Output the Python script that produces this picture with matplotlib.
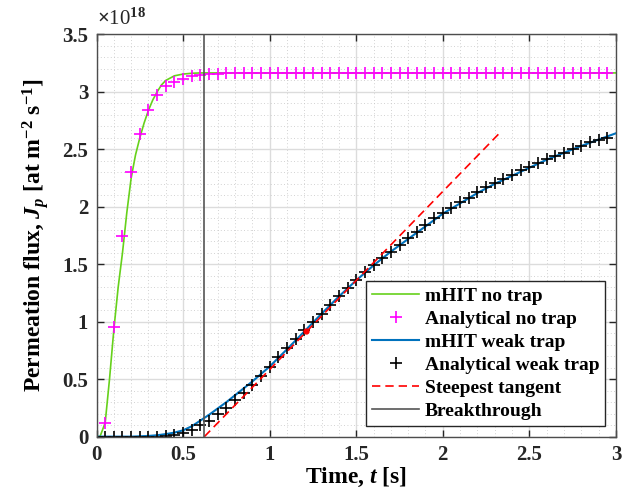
import numpy as np
import matplotlib
matplotlib.use("Agg")
from matplotlib import pyplot as plt
from matplotlib.ticker import MultipleLocator, FormatStrFormatter

plt.rcParams["font.family"] = ["Liberation Serif", "DejaVu Serif"]
plt.rcParams["font.weight"] = "bold"
plt.rcParams["mathtext.fontset"] = "custom"
plt.rcParams["mathtext.rm"] = "Liberation Serif:bold"
plt.rcParams["mathtext.it"] = "Liberation Serif:bold:italic"
plt.rcParams["mathtext.bf"] = "Liberation Serif:bold"

# flux values in units of 1e18 at m^-2 s^-1
t_marks = [0.0, 0.05, 0.1, 0.15, 0.2, 0.25, 0.3, 0.35, 0.4, 0.45,
           0.5, 0.55, 0.6, 0.65, 0.7, 0.75, 0.8, 0.85, 0.9, 0.95,
           1.0, 1.05, 1.1, 1.15, 1.2, 1.25, 1.3, 1.35, 1.4, 1.45,
           1.5, 1.55, 1.6, 1.65, 1.7, 1.75, 1.8, 1.85, 1.9, 1.95,
           2.0, 2.05, 2.1, 2.15, 2.2, 2.25, 2.3, 2.35, 2.4, 2.45,
           2.5, 2.55, 2.6, 2.65, 2.7, 2.75, 2.8, 2.85, 2.9, 2.95]

ana_notrap = [0.0, 0.12, 0.95, 1.75, 2.30, 2.63, 2.84, 2.97, 3.05, 3.09,
              3.115, 3.135, 3.148, 3.155, 3.16, 3.163, 3.165, 3.165, 3.165, 3.165,
              3.165, 3.165, 3.165, 3.165, 3.165, 3.165, 3.165, 3.165, 3.165, 3.165,
              3.165, 3.165, 3.165, 3.165, 3.165, 3.165, 3.165, 3.165, 3.165, 3.165,
              3.165, 3.165, 3.165, 3.165, 3.165, 3.165, 3.165, 3.165, 3.165, 3.165,
              3.165, 3.165, 3.165, 3.165, 3.165, 3.165, 3.165, 3.165, 3.165, 3.165]

ana_weak = [0.0, 0.0, 0.0, 0.0, 0.0, 0.0, 0.0, 0.001, 0.004, 0.012,
            0.03, 0.06, 0.10, 0.14, 0.20, 0.25, 0.32, 0.38, 0.45, 0.53,
            0.61, 0.69, 0.77, 0.85, 0.93, 1.0, 1.07, 1.145, 1.22, 1.29,
            1.36, 1.43, 1.49, 1.555, 1.61, 1.67, 1.73, 1.785, 1.84, 1.90,
            1.95, 1.99, 2.04, 2.08, 2.13, 2.17, 2.21, 2.24, 2.28, 2.32,
            2.35, 2.38, 2.42, 2.44, 2.47, 2.50, 2.53, 2.56, 2.58, 2.60]

t_notrap = [0.0, 0.02, 0.05, 0.075, 0.1, 0.125, 0.15, 0.175, 0.2, 0.225,
            0.25, 0.275, 0.3, 0.325, 0.35, 0.375, 0.4, 0.45, 0.5, 0.55,
            0.6, 0.7, 3.0]
mhit_notrap = [0.0, 0.0, 0.12, 0.5, 0.93, 1.3, 1.6, 1.95, 2.25, 2.45,
               2.6, 2.73, 2.84, 2.93, 3.0, 3.06, 3.1, 3.14, 3.155, 3.162,
               3.165, 3.165, 3.165]

t_weak = [0.0, 0.2, 0.3, 0.35, 0.4, 0.45, 0.5, 0.55, 0.6, 0.65,
          0.7, 0.75, 0.8, 0.85, 0.9, 1.0, 1.1, 1.2, 1.3, 1.4,
          1.5, 1.6, 1.7, 1.8, 1.9, 2.0, 2.1, 2.2, 2.3, 2.4,
          2.5, 2.6, 2.7, 2.8, 2.9, 3.0]
mhit_weak = [0.0, 0.0, 0.006, 0.012, 0.022, 0.035, 0.055, 0.09, 0.14, 0.19,
             0.245, 0.30, 0.36, 0.42, 0.48, 0.61, 0.76, 0.915, 1.07, 1.22,
             1.36, 1.49, 1.61, 1.72, 1.83, 1.94, 2.03, 2.12, 2.20, 2.27,
             2.34, 2.41, 2.47, 2.53, 2.585, 2.64]

t_tangent = [0.623, 2.323]
y_tangent = [0.0, 2.634]
t_point = 1.21
y_point = 0.92
t_break = 0.623

scale = 1e18

fig = plt.figure(figsize=(6.35, 4.99), dpi=100)
ax = fig.add_axes([0.152, 0.125, 0.818, 0.806])

ax.plot(t_notrap, np.array(mhit_notrap) * scale, color="#66d11b", lw=1.2, label="mHIT no trap")
ax.plot(t_marks, np.array(ana_notrap) * scale, ls="none", marker="+", ms=8, mew=1.2,
        color="#ff00ff", label="Analytical no trap")
ax.plot(t_weak, np.array(mhit_weak) * scale, color="#0072bd", lw=1.5, label="mHIT weak trap")
ax.plot(t_marks, np.array(ana_weak) * scale, ls="none", marker="+", ms=8, mew=1.2,
        color="black", label="Analytical weak trap")
ax.plot(t_tangent, np.array(y_tangent) * scale, color="red", ls=(0, (5, 3)), lw=1.2,
        label="Steepest tangent")
ax.plot([t_point], [y_point * scale], ls="none", marker="o", ms=3.5, color="red")
ax.plot([t_break, t_break], [0, 3.5 * scale], color="#555555", lw=1.2, label="Breakthrough")

ax.set_xlim(0, 3)
ax.set_ylim(0, 3.5 * scale)

ax.xaxis.set_major_locator(MultipleLocator(0.5))
ax.xaxis.set_minor_locator(MultipleLocator(0.1))
ax.yaxis.set_major_locator(MultipleLocator(0.5 * scale))
ax.yaxis.set_minor_locator(MultipleLocator(0.1 * scale))
ax.xaxis.set_major_formatter(FormatStrFormatter("%g"))
ax.yaxis.set_major_formatter(plt.FuncFormatter(lambda v, p: "%g" % (v / scale)))

ax.grid(which="major", color="#dcdcdc", lw=1.0)
ax.grid(which="minor", color="#c4c4c4", lw=0.6, ls=(0, (1, 3)))
ax.set_axisbelow(True)

ax.tick_params(which="major", direction="in", length=5, width=1, top=True, right=True,
               labelsize=15, colors="#262626", pad=6)
ax.tick_params(which="minor", length=0)
for tl in ax.get_xticklabels() + ax.get_yticklabels():
    tl.set_fontweight("bold")
for s in ax.spines.values():
    s.set_color("#4d4d4d")
    s.set_linewidth(1.0)

ax.text(0.0, 1.012, r"$\times$10$^{18}$", transform=ax.transAxes, fontsize=15,
        fontweight="normal", ha="left", va="bottom", color="#262626")

ax.set_xlabel(r"Time, $t$ [s]", fontsize=17, fontweight="bold", labelpad=1)
ax.set_ylabel(r"Permeation flux, $J_p$ [at m$^{-2}$ s$^{-1}$]", fontsize=17,
              fontweight="bold", labelpad=8)

leg = ax.legend(loc="lower right", fontsize=14, frameon=True, fancybox=False,
                edgecolor="#262626", framealpha=1, borderpad=0.3, labelspacing=0.28,
                handlelength=2.4, handletextpad=0.3, borderaxespad=0.55)
leg.get_frame().set_linewidth(1.0)

fig.savefig("out.png", dpi=100)
